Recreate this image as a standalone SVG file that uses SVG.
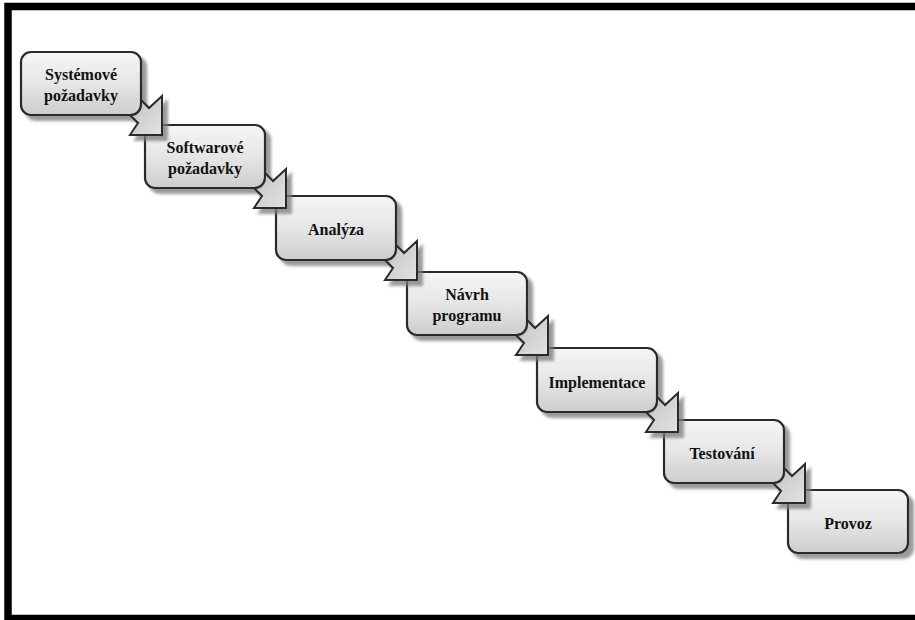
<svg xmlns="http://www.w3.org/2000/svg" width="915" height="620" viewBox="0 0 915 620">
  <style>
    .box { fill: url(#boxFill); stroke: #2a2a2a; stroke-width: 2.2; filter: url(#shadow); }
    .lbl { font-family: "Liberation Serif", "Times New Roman", serif; font-weight: bold; font-size: 16px; fill: #111; text-anchor: middle; }
    .arrow { fill: url(#arrowFill); stroke: #2a2a2a; stroke-width: 2; stroke-linejoin: miter; filter: url(#shadow); }
  </style>
  <defs>
    <linearGradient id="boxFill" x1="0" y1="0" x2="0" y2="1">
      <stop offset="0" stop-color="#f6f6f6"/>
      <stop offset="0.5" stop-color="#e6e6e6"/>
      <stop offset="1" stop-color="#cdcdcd"/>
    </linearGradient>
    <linearGradient id="arrowFill" x1="0" y1="0" x2="1" y2="1">
      <stop offset="0" stop-color="#9c9c9c"/>
      <stop offset="0.4" stop-color="#cfcfcf"/>
      <stop offset="1" stop-color="#e2e2e2"/>
    </linearGradient>
    <filter id="shadow" x="-20%" y="-20%" width="150%" height="150%">
      <feGaussianBlur in="SourceAlpha" stdDeviation="1.8"/>
      <feOffset dx="5" dy="5" result="off"/>
      <feFlood flood-color="#7a7a7a" flood-opacity="0.75"/>
      <feComposite in2="off" operator="in" result="sh"/>
      <feMerge>
        <feMergeNode in="sh"/>
        <feMergeNode in="SourceGraphic"/>
      </feMerge>
    </filter>
  </defs>

  <rect width="915" height="620" fill="#ffffff"/>
  <!-- heavy black frame, open past the right edge -->
  <rect x="8" y="6.5" width="960" height="612" fill="none" stroke="#000" stroke-width="7.5"/>

  <g id="nodes">
    <g id="n1">
      <rect class="box" x="21" y="52" width="120" height="63" rx="10"/>
      <text class="lbl" x="81" y="80">Systémové</text>
      <text class="lbl" x="81" y="101">požadavky</text>
    </g>
    <g id="n2">
      <rect class="box" x="145" y="125" width="120" height="63" rx="10"/>
      <text class="lbl" x="205" y="153">Softwarové</text>
      <text class="lbl" x="205" y="174">požadavky</text>
    </g>
    <g id="n3">
      <rect class="box" x="276" y="196" width="120" height="64" rx="10"/>
      <text class="lbl" x="336" y="235">Analýza</text>
    </g>
    <g id="n4">
      <rect class="box" x="407" y="272" width="120" height="63" rx="10"/>
      <text class="lbl" x="467" y="300">Návrh</text>
      <text class="lbl" x="467" y="321">programu</text>
    </g>
    <g id="n5">
      <rect class="box" x="537" y="348" width="120" height="64" rx="10"/>
      <text class="lbl" x="597" y="388">Implementace</text>
    </g>
    <g id="n6">
      <rect class="box" x="664" y="420" width="120" height="63" rx="10"/>
      <text class="lbl" x="722" y="459">Testování</text>
    </g>
    <g id="n7">
      <rect class="box" x="788" y="490" width="120" height="63" rx="10"/>
      <text class="lbl" x="848" y="529">Provoz</text>
    </g>
  </g>

  <!-- step arrows: head at each box's lower-right corner, shaft tucked under that corner -->
  <g id="connectors">
    <path class="arrow" transform="translate(141,115)" d="M0,-15 L8,-7 L21,-19 L21,20 L-11,20 L-3,8 L-11,0 L-10,0 A10,10 0 0 0 0,-10 Z"/>
    <path class="arrow" transform="translate(265,188)" d="M0,-15 L8,-7 L21,-19 L21,20 L-11,20 L-3,8 L-11,0 L-10,0 A10,10 0 0 0 0,-10 Z"/>
    <path class="arrow" transform="translate(396,260)" d="M0,-15 L8,-7 L21,-19 L21,20 L-11,20 L-3,8 L-11,0 L-10,0 A10,10 0 0 0 0,-10 Z"/>
    <path class="arrow" transform="translate(527,335)" d="M0,-15 L8,-7 L21,-19 L21,20 L-11,20 L-3,8 L-11,0 L-10,0 A10,10 0 0 0 0,-10 Z"/>
    <path class="arrow" transform="translate(657,412)" d="M0,-15 L8,-7 L21,-19 L21,20 L-11,20 L-3,8 L-11,0 L-10,0 A10,10 0 0 0 0,-10 Z"/>
    <path class="arrow" transform="translate(784,483)" d="M0,-15 L8,-7 L21,-19 L21,20 L-11,20 L-3,8 L-11,0 L-10,0 A10,10 0 0 0 0,-10 Z"/>
  </g>
</svg>
